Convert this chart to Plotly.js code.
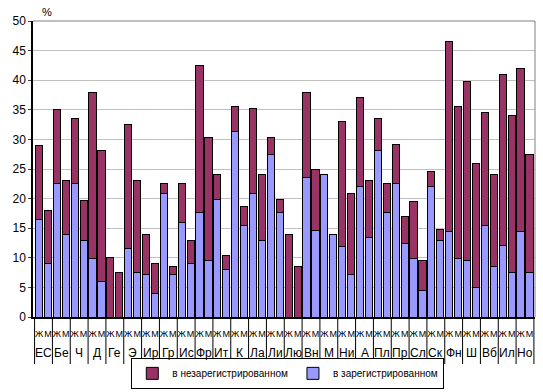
<!DOCTYPE html>
<html><head><meta charset="utf-8">
<script src="https://cdn.plot.ly/plotly-3.0.1.min.js"></script>
<style>html,body{margin:0;padding:0;background:#fff}#chart{width:543px;height:392px}</style>
</head><body><div id="chart"></div>
<script>
const countries = ["ЕС","Бе","Ч","Д","Ге","Э","Ир","Гр","Ис","Фр","Ит","К","Ла","Ли","Лю","Вн","М","Ни","А","Пл","Пр","Сл","Ск","Фн","Ш","Вб","Ил","Но"];
const sexes = ["Ж","М"];
// totals (registered + unregistered) for Ж, М per country
const totalW = [29,35,33.5,38,10,32.5,14,22.5,22.5,42.4,24,35.6,35.2,30.3,14,38,24,33,37,33.5,29.1,19.5,24.5,46.5,39.7,34.5,40.9,41.9];
const totalM = [18,23,19.6,28.1,7.6,23,9,8.6,13,30.3,10.4,18.6,24,19.9,8.6,25,14,20.9,23,22.5,17,9.6,14.8,35.5,26,24,34,27.5];
// registered employment share
const regW = [16.5,22.5,22.5,9.9,0,11.5,7.2,20.9,16,17.6,19.9,31.4,20.9,27.5,0,23.5,24,11.9,22,28.1,22.5,9.9,22,14.5,9.6,15.5,12,14.5];
const regM = [9.1,14,13,6,0,7.6,4,7.1,9.1,9.6,8.1,15.5,13,17.6,0,14.6,14,7.1,13.5,17.6,12.5,4.5,13,9.9,5,8.6,7.6,7.6];

const keys = [], inner = [], reg = [], unreg = [];
countries.forEach((c, i) => {
  sexes.forEach(s => { keys.push(c + '|' + s); inner.push(s); });
  reg.push(regW[i], regM[i]);
  unreg.push(+(totalW[i] - regW[i]).toFixed(2), +(totalM[i] - regM[i]).toFixed(2));
});

const traces = [
  {type:'bar', name:'в зарегистрированном', x:keys, y:reg,
   marker:{color:'#9999FF', line:{color:'#000', width:1}}},
  {type:'bar', name:'в незарегистрированном', x:keys, y:unreg,
   marker:{color:'#993366', line:{color:'#000', width:1}}}
];

const plotH = 392 - 21 - 75;
const shapes = [
  {type:'line', xref:'paper', yref:'paper', x0:0, x1:1, y0:1, y1:1, line:{color:'#808080', width:1}},
  {type:'line', xref:'paper', yref:'paper', x0:1, x1:1, y0:0, y1:1, line:{color:'#808080', width:1}}
];
const annotations = [{text:'%', xref:'paper', yref:'paper', x:0.028, y:1.005, xanchor:'center', yanchor:'bottom', showarrow:false, font:{size:11}}];
countries.forEach((c, i) => {
  shapes.push({type:'line', xref:'x', yref:'paper', x0:2*i-0.5, x1:2*i-0.5, y0:0, y1:-47/plotH, line:{color:'#000', width:1}});
  annotations.push({text:c, xref:'x', yref:'paper', x:2*i+0.5, y:-36/plotH, xanchor:'center', yanchor:'middle', showarrow:false, font:{size:12}});
});
shapes.push({type:'line', xref:'x', yref:'paper', x0:2*countries.length-0.5, x1:2*countries.length-0.5, y0:0, y1:-47/plotH, line:{color:'#000', width:1}});

const layout = {
  width:543, height:392, barmode:'stack', bargap:0.2,
  margin:{l:33, r:8, t:21, b:75, autoexpand:false},
  font:{family:'Liberation Sans, Arial, sans-serif', size:11, color:'#000'},
  paper_bgcolor:'#fff', plot_bgcolor:'#fff',
  showlegend:true,
  legend:{orientation:'h', x:0.53, xanchor:'center', xref:'container', yref:'container', y:0.008, yanchor:'bottom', traceorder:'reversed',
    bordercolor:'#000', borderwidth:1, font:{size:10}, itemwidth:30, tracegroupgap:0},
  xaxis:{type:'category', automargin:false, showline:true, linecolor:'#000', linewidth:1.5,
    tickmode:'array', tickvals:keys, ticktext:inner, tickfont:{size:9}, tickangle:0, ticks:'', ticklabelstandoff:7},
  yaxis:{range:[0,50], dtick:5, automargin:false, showline:true, linecolor:'#000', linewidth:1.5,
    gridcolor:'#c0c0c0', gridwidth:1, tickfont:{size:12}, ticks:'outside', ticklen:3, zeroline:false},
  shapes, annotations
};
Plotly.newPlot('chart', traces, layout, {displayModeBar:false});
</script></body></html>
